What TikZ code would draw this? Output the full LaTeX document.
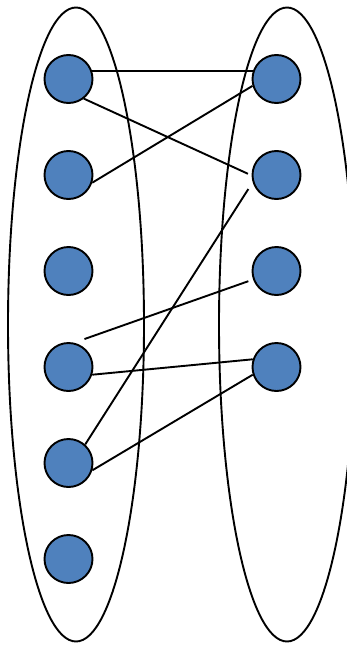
\documentclass[tikz,border=0pt]{standalone}
\definecolor{vertexblue}{HTML}{4F81BD}
\begin{document}
\begin{tikzpicture}[x=1pt, y=-1pt, line width=1.9pt,
                    vertex/.style = {shape=circle, draw, fill=vertexblue,
                        minimum size=48pt, inner sep=0pt}]
        \useasboundingbox (0,0) rectangle (347,645);
        \clip (0,0) rectangle (347,645);

        % the two parts
        \draw (76,324.5) ellipse [x radius=68, y radius=317];
        \draw (287,324.5) ellipse [x radius=68, y radius=317];

        \foreach \i in {1,...,6}
            \node[vertex] (l\i) at (68.5, -17 + 96*\i) {};
        \foreach \i in {1,...,4}
            \node[vertex] (r\i) at (276.5, -17 + 96*\i) {};

        \draw (l1.18) -- (r1.162);
        \draw[shorten >=4pt] (l1.-52) -- (r2.181);
        \draw (l2.-18) -- (r1.196);
        \draw[shorten <=8pt] (r2.197) -- (l5.48);
        \draw[shorten <=11pt, shorten >=5pt] (l4.77) -- (r3.200);
        \draw (l4.-18) -- (r4.162);
        \draw (l5.-17) -- (r4.198);

\end{tikzpicture}
\end{document}
